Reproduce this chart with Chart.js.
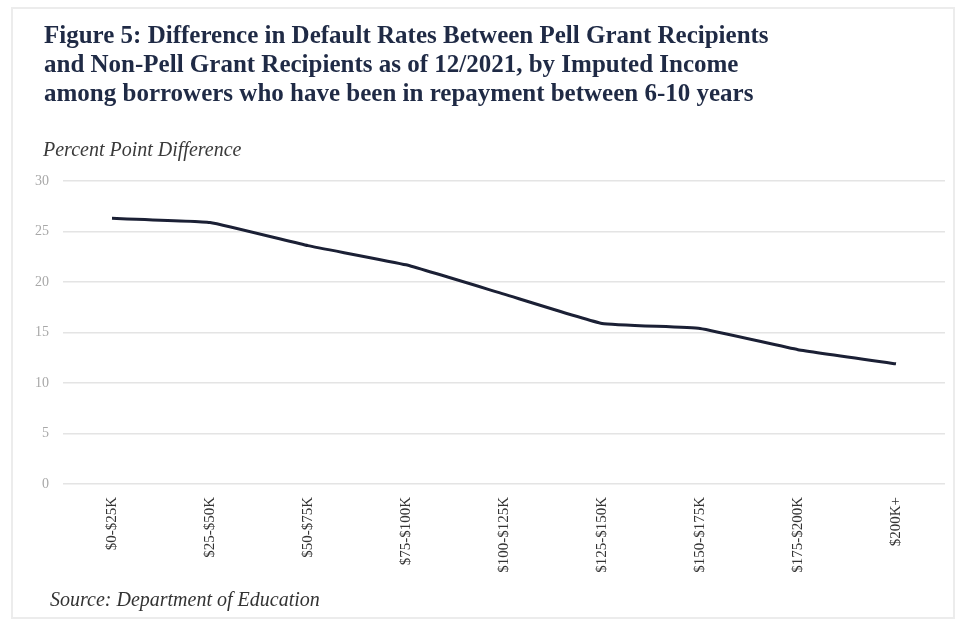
<!DOCTYPE html>
<html lang="en">
<head>
    <meta charset="UTF-8">
    <title>Figure 5</title>
    <script src="https://cdn.jsdelivr.net/npm/chart.js"></script>
    <style>
        html, body {
            margin: 0;
            padding: 0;
            background: #fff;
        }
        .frame {
            position: absolute;
            left: 11px;
            top: 7px;
            width: 944px;
            height: 612px;
            border: 2px solid #ececec;
            box-sizing: border-box;
        }
        .title {
            position: absolute;
            left: 44px;
            top: 20px;
            font-family: "Liberation Serif", "Times New Roman", serif;
            font-weight: bold;
            font-size: 25px;
            line-height: 29px;
            color: #1f2a45;
        }
        .ytitle {
            position: absolute;
            left: 43px;
            top: 138px;
            font-family: "Liberation Serif", serif;
            font-style: italic;
            font-size: 20px;
            color: #3a3a3a;
        }
        .source {
            position: absolute;
            left: 50px;
            top: 588px;
            font-family: "Liberation Serif", serif;
            font-style: italic;
            font-size: 20px;
            color: #333;
        }
        .chart-box {
            position: absolute;
            left: 0;
            top: 0;
            width: 959px;
            height: 621px;
        }
    </style>
</head>
<body>
    <div class="frame"></div>
    <div class="chart-box"><canvas id="pellChart" width="959" height="621"></canvas></div>
    <div class="title">Figure 5: Difference in Default Rates Between Pell Grant Recipients<br>and Non-Pell Grant Recipients as of 12/2021, by Imputed Income<br>among borrowers who have been in repayment between 6-10 years</div>
    <div class="ytitle">Percent Point Difference</div>
    <div class="source">Source: Department of Education</div>

    <script>
        // income brackets and percentage point gap
        const incomeBrackets = ['$0-$25K', '$25-$50K', '$50-$75K', '$75-$100K', '$100-$125K',
                                '$125-$150K', '$150-$175K', '$175-$200K', '$200K+'];
        const pointDifference = [26.3, 25.9, 23.6, 21.7, 18.8, 15.9, 15.4, 13.3, 11.9];
        const yTicks = [0, 5, 10, 15, 20, 25, 30];

        const ctx = document.getElementById('pellChart').getContext('2d');
        new Chart(ctx, {
            type: 'line',
            data: {
                labels: incomeBrackets,
                datasets: [{
                    label: 'Difference',
                    data: pointDifference,
                    borderColor: '#1b2035',
                    borderWidth: 3,
                    pointRadius: 0,
                    tension: 0.1,
                    fill: false
                }]
            },
            options: {
                responsive: false,
                animation: false,
                layout: {
                    padding: { left: 13, right: 14, top: 181, bottom: 37 }
                },
                plugins: {
                    legend: { display: false },
                    tooltip: { enabled: false }
                },
                scales: {
                    x: {
                        offset: true,
                        grid: { display: false },
                        border: { display: false },
                        afterFit: (s) => { s.height = 100; },
                        ticks: {
                            minRotation: 90,
                            maxRotation: 90,
                            padding: 5,
                            color: '#333',
                            font: { family: 'Liberation Serif', size: 15 }
                        }
                    },
                    y: {
                        min: 0,
                        max: 30,
                        afterFit: (s) => { s.width = 50; },
                        afterBuildTicks: (s) => { s.ticks = yTicks.map(v => ({ value: v })); },
                        grid: { color: '#e4e4e4', lineWidth: 1.5, drawTicks: false },
                        border: { display: false },
                        ticks: {
                            padding: 14,
                            color: '#a8a8a8',
                            font: { family: 'Liberation Serif', size: 14 }
                        }
                    }
                }
            }
        });
    </script>
</body>
</html>
